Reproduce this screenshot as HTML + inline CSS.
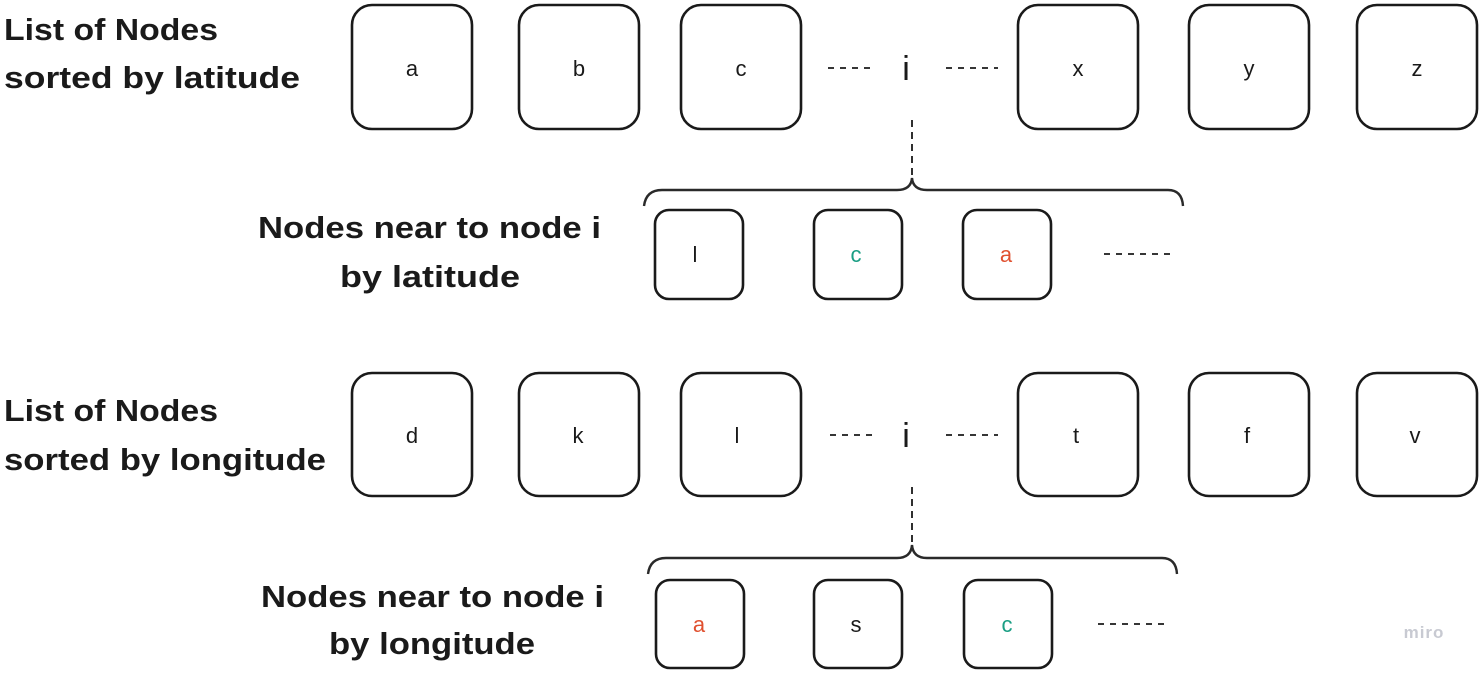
<!DOCTYPE html>
<html><head><meta charset="utf-8"><style>
html,body{margin:0;padding:0;background:#fff;}
svg{display:block;font-family:"Liberation Sans",sans-serif;}
.lbl{font-size:31px;font-weight:bold;fill:#1a1a1a;}
.nt{font-size:22px;fill:#1a1a1a;text-anchor:middle;}
.bx{fill:#fff;stroke:#1a1a1a;stroke-width:2.6;}
.dl{stroke:#1a1a1a;stroke-width:1.8;stroke-dasharray:6,6;fill:none;}
.br{stroke:#2a2a2a;stroke-width:2.4;fill:none;}
</style></head><body>
<svg width="1483" height="674" viewBox="0 0 1483 674">
<text class="lbl" x="4" y="40" textLength="214" lengthAdjust="spacingAndGlyphs">List of Nodes</text>
<text class="lbl" x="4" y="88" textLength="296" lengthAdjust="spacingAndGlyphs">sorted by latitude</text>
<text class="lbl" x="4" y="421" textLength="214" lengthAdjust="spacingAndGlyphs">List of Nodes</text>
<text class="lbl" x="4" y="470" textLength="322" lengthAdjust="spacingAndGlyphs">sorted by longitude</text>
<text class="lbl" x="258" y="238" textLength="343" lengthAdjust="spacingAndGlyphs">Nodes near to node i</text>
<text class="lbl" x="340" y="287" textLength="180" lengthAdjust="spacingAndGlyphs">by latitude</text>
<text class="lbl" x="261" y="607" textLength="343" lengthAdjust="spacingAndGlyphs">Nodes near to node i</text>
<text class="lbl" x="329" y="654" textLength="206" lengthAdjust="spacingAndGlyphs">by longitude</text>

<g>
<rect class="bx" x="352" y="5" width="120" height="124" rx="20"/><text class="nt" x="412" y="76">a</text>
<rect class="bx" x="519" y="5" width="120" height="124" rx="20"/><text class="nt" x="579" y="76">b</text>
<rect class="bx" x="681" y="5" width="120" height="124" rx="20"/><text class="nt" x="741" y="76">c</text>
<rect class="bx" x="1018" y="5" width="120" height="124" rx="20"/><text class="nt" x="1078" y="76">x</text>
<rect class="bx" x="1189" y="5" width="120" height="124" rx="20"/><text class="nt" x="1249" y="76">y</text>
<rect class="bx" x="1357" y="5" width="120" height="124" rx="20"/><text class="nt" x="1417" y="76">z</text>
<line class="dl" x1="828" y1="68" x2="876" y2="68"/><line class="dl" x1="946" y1="68" x2="998" y2="68"/>
<text x="906" y="80" text-anchor="middle" style="font-size:34px;fill:#1a1a1a">i</text>
<line class="dl" x1="912" y1="120" x2="912" y2="182" style="stroke-dasharray:7,5"/>
<path class="br" d="M644 206 Q646 190 662 190 L897 190 Q911 190 912 178 Q913 190 927 190 L1168 190 Q1182 190 1183 206"/>
<rect class="bx" x="655" y="210" width="88" height="89" rx="14"/><text class="nt" x="695" y="262">l</text>
<rect class="bx" x="814" y="210" width="88" height="89" rx="14"/><text class="nt" x="856" y="262" style="fill:#1a9e84">c</text>
<rect class="bx" x="963" y="210" width="88" height="89" rx="14"/><text class="nt" x="1006" y="262" style="fill:#e0502f">a</text>
<line class="dl" x1="1104" y1="254" x2="1172" y2="254"/>
</g>

<g>
<rect class="bx" x="352" y="373" width="120" height="123" rx="20"/><text class="nt" x="412" y="443">d</text>
<rect class="bx" x="519" y="373" width="120" height="123" rx="20"/><text class="nt" x="578" y="443">k</text>
<rect class="bx" x="681" y="373" width="120" height="123" rx="20"/><text class="nt" x="737" y="443">l</text>
<rect class="bx" x="1018" y="373" width="120" height="123" rx="20"/><text class="nt" x="1076" y="443">t</text>
<rect class="bx" x="1189" y="373" width="120" height="123" rx="20"/><text class="nt" x="1247" y="443">f</text>
<rect class="bx" x="1357" y="373" width="120" height="123" rx="20"/><text class="nt" x="1415" y="443">v</text>
<line class="dl" x1="830" y1="435" x2="878" y2="435"/><line class="dl" x1="946" y1="435" x2="998" y2="435"/>
<text x="906" y="447" text-anchor="middle" style="font-size:34px;fill:#1a1a1a">i</text>
<line class="dl" x1="912" y1="487" x2="912" y2="549" style="stroke-dasharray:7,5"/>
<path class="br" d="M648 574 Q650 558 666 558 L897 558 Q911 558 912 545 Q913 558 927 558 L1162 558 Q1176 558 1177 574"/>
<rect class="bx" x="656" y="580" width="88" height="88" rx="14"/><text class="nt" x="699" y="632" style="fill:#e0502f">a</text>
<rect class="bx" x="814" y="580" width="88" height="88" rx="14"/><text class="nt" x="856" y="632">s</text>
<rect class="bx" x="964" y="580" width="88" height="88" rx="14"/><text class="nt" x="1007" y="632" style="fill:#1a9e84">c</text>
<line class="dl" x1="1098" y1="624" x2="1166" y2="624"/>
</g>
<text x="1424" y="638" text-anchor="middle" style="font-size:17px;font-weight:bold;fill:#c8cad2;letter-spacing:1px">miro</text>
</svg>
</body></html>
